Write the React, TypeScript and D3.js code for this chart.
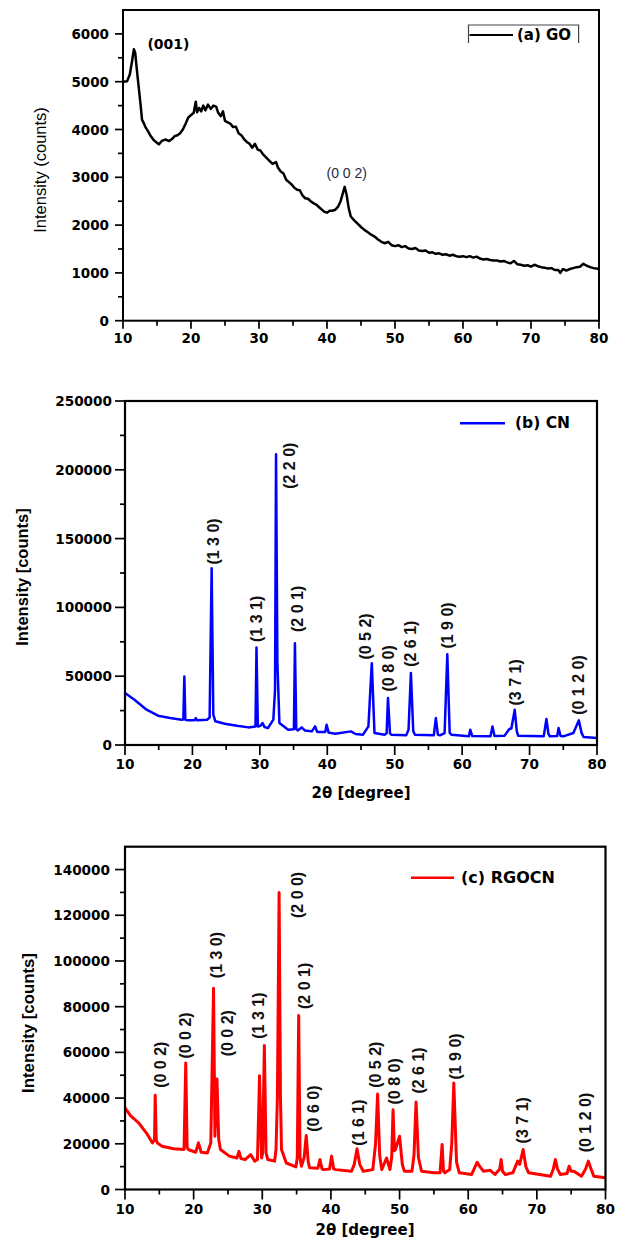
import React from 'react';
import * as d3 from 'd3';

// ---------- data ----------
const X_TICKS = [10, 20, 30, 40, 50, 60, 70, 80];
const X_MINOR = [15, 25, 35, 45, 55, 65, 75];

const GO_YTICKS = [0, 1000, 2000, 3000, 4000, 5000, 6000];
const GO_YMINOR = [500, 1500, 2500, 3500, 4500, 5500, 6500];
const CN_YTICKS = [0, 50000, 100000, 150000, 200000, 250000];
const CN_YMINOR = [25000, 75000, 125000, 175000, 225000];
const RG_YTICKS = [0, 20000, 40000, 60000, 80000, 100000, 120000, 140000];
const RG_YMINOR = [10000, 30000, 50000, 70000, 90000, 110000, 130000];

const GO_DATA: [number, number][] = [
  [10.0, 5000], [10.6, 5010], [11.0, 5150], [11.3, 5400], [11.6, 5680], [11.8, 5600], [12.0, 5300],
  [12.3, 4900], [12.6, 4500], [12.8, 4200], [13.0, 4150], [13.3, 4050], [13.6, 3980], [14.0, 3880],
  [14.5, 3780], [15.0, 3720], [15.3, 3690], [15.7, 3760], [16.2, 3790], [16.8, 3760], [17.2, 3800],
  [17.6, 3860], [18.0, 3880], [18.4, 3920], [18.8, 4000], [19.2, 4120], [19.6, 4250], [20.0, 4300],
  [20.4, 4350], [20.7, 4580], [20.9, 4360], [21.2, 4450], [21.5, 4380], [21.8, 4500], [22.1, 4400],
  [22.5, 4520], [22.9, 4430], [23.3, 4500], [23.7, 4480], [24.0, 4350], [24.4, 4280], [24.7, 4380],
  [25.0, 4180], [25.4, 4150], [25.8, 4120], [26.2, 4050], [26.6, 4060], [27.0, 3920], [27.4, 3880],
  [27.8, 3800], [28.2, 3740], [28.6, 3700], [29.0, 3620], [29.4, 3700], [29.8, 3580], [30.2, 3560],
  [30.6, 3480], [31.0, 3420], [31.5, 3350], [32.0, 3280], [32.5, 3320], [32.8, 3200], [33.2, 3120],
  [33.6, 3080], [34.0, 2950], [34.4, 2900], [34.8, 2850], [35.2, 2780], [35.6, 2740], [36.0, 2730],
  [36.4, 2620], [36.8, 2560], [37.2, 2550], [37.6, 2500], [38.0, 2460], [38.4, 2430], [38.8, 2380],
  [39.2, 2330], [39.6, 2280], [40.0, 2260], [40.4, 2300], [40.8, 2300], [41.2, 2320], [41.6, 2380],
  [42.0, 2500], [42.3, 2650], [42.6, 2800], [42.9, 2620], [43.2, 2350], [43.5, 2180], [44.0, 2100],
  [44.5, 2030], [45.0, 1960], [45.5, 1900], [46.0, 1850], [46.5, 1800], [47.0, 1760], [47.5, 1700],
  [48.0, 1650], [48.5, 1620], [49.0, 1650], [49.5, 1580], [50.0, 1560], [50.5, 1580], [51.0, 1540],
  [51.5, 1560], [52.0, 1510], [52.5, 1500], [53.0, 1520], [53.5, 1470], [54.0, 1460], [54.5, 1470],
  [55.0, 1420], [55.5, 1430], [56.0, 1400], [56.5, 1410], [57.0, 1380], [57.5, 1390], [58.0, 1360],
  [58.5, 1380], [59.0, 1350], [59.5, 1340], [60.0, 1350], [60.5, 1330], [61.0, 1350], [61.5, 1320],
  [62.0, 1340], [62.5, 1300], [63.0, 1280], [63.5, 1290], [64.0, 1270], [64.5, 1260], [65.0, 1260],
  [65.5, 1240], [66.0, 1250], [66.5, 1220], [67.0, 1200], [67.5, 1250], [68.0, 1180], [68.5, 1170],
  [69.0, 1150], [69.5, 1160], [70.0, 1130], [70.5, 1170], [71.0, 1140], [71.5, 1120], [72.0, 1110],
  [72.5, 1090], [73.0, 1100], [73.5, 1060], [74.0, 1060], [74.3, 1000], [74.7, 1080], [75.2, 1050],
  [75.7, 1080], [76.2, 1100], [76.7, 1120], [77.2, 1130], [77.7, 1190], [78.2, 1150], [78.7, 1120],
  [79.2, 1100], [80.0, 1080],
];

const CN_DATA: [number, number][] = [
  [10.0, 37750], [11.4, 32900], [13.2, 25650], [14.9, 21300], [16.7, 19600], [18.4, 18400],
  [18.65, 18500], [18.8, 49850], [18.95, 18300], [19.3, 17900], [20.3, 17900], [20.5, 19500],
  [20.7, 17900], [22.2, 18400], [22.55, 20000], [22.85, 128500], [23.1, 22000], [23.4, 17200],
  [24.8, 15500], [26.6, 14000], [28.3, 12800], [29.35, 13500], [29.5, 70900], [29.7, 13500],
  [30.1, 14000], [30.4, 16000], [30.7, 13000], [31.2, 12300], [32.0, 18400], [32.25, 40000],
  [32.4, 211300], [32.6, 60000], [32.9, 16000], [34.2, 11100], [35.05, 11500], [35.2, 74000],
  [35.4, 11500], [35.6, 10600], [36.2, 12800], [36.7, 10500], [37.7, 9900], [38.2, 13500],
  [38.5, 9500], [39.7, 9500], [39.9, 14700], [40.2, 9000], [41.2, 8200], [43.5, 9900], [44.2, 8000],
  [45.3, 7500], [46.1, 13500], [46.6, 59500], [47.0, 8700], [48.5, 7500], [48.8, 8500],
  [49.0, 34100], [49.3, 8500], [49.5, 7500], [51.7, 7000], [52.05, 11000], [52.4, 52300],
  [52.75, 10000], [53.0, 7500], [55.8, 7000], [56.1, 19600], [56.4, 7500], [56.7, 7000],
  [57.4, 8700], [57.8, 66000], [58.15, 9000], [58.4, 7500], [61.0, 6300], [61.2, 11100],
  [61.5, 6500], [64.2, 6300], [64.5, 13500], [64.8, 6500], [66.3, 6800], [67.0, 11600],
  [67.3, 12000], [67.8, 25650], [68.1, 10000], [68.3, 6800], [72.1, 6300], [72.5, 18900],
  [72.8, 8000], [73.0, 6300], [74.1, 6500], [74.3, 12300], [74.6, 6500], [75.0, 6300], [76.5, 8700],
  [77.3, 17900], [77.7, 9000], [78.0, 5800], [80.0, 5100],
];

const RG_DATA: [number, number][] = [
  [10.0, 35700], [10.8, 32300], [12.0, 29100], [13.1, 24800], [14.0, 20400], [14.3, 21800],
  [14.4, 41200], [14.55, 22000], [14.7, 20400], [15.4, 18900], [17.1, 17800], [18.6, 17500],
  [18.85, 55300], [19.05, 18500], [19.2, 17500], [20.3, 16300], [20.7, 20400], [21.1, 16300],
  [22.0, 16000], [22.5, 20400], [22.9, 88100], [23.1, 23300], [23.4, 48300], [23.65, 22000],
  [23.9, 17500], [25.2, 14600], [26.3, 13800], [26.6, 16700], [26.9, 13500], [27.5, 13100],
  [28.3, 15300], [28.9, 12400], [29.3, 13100], [29.6, 49800], [29.9, 13800], [30.05, 16000],
  [30.3, 63000], [30.55, 16000], [30.8, 13100], [31.8, 12400], [32.0, 17500], [32.2, 40000],
  [32.45, 130000], [32.65, 40000], [32.8, 17500], [33.5, 11600], [34.9, 9900], [35.1, 14000],
  [35.3, 76100], [35.5, 14000], [35.7, 10200], [36.1, 14000], [36.4, 23600], [36.7, 12000],
  [36.9, 9500], [38.1, 9300], [38.4, 13100], [38.7, 9000], [38.9, 8700], [39.8, 9000], [40.1, 14600],
  [40.4, 9000], [40.7, 8700], [43.0, 8000], [43.4, 11000], [43.8, 17800], [44.2, 11000],
  [44.7, 8000], [46.1, 8700], [46.5, 20000], [46.8, 41800], [47.1, 15000], [47.4, 8700],
  [48.1, 13800], [48.6, 8700], [48.85, 14000], [49.05, 34900], [49.25, 17000], [49.4, 17500],
  [50.0, 23300], [50.4, 11000], [50.7, 8000], [51.8, 8000], [52.1, 15000], [52.4, 38300],
  [52.75, 14000], [53.2, 8000], [55.0, 7300], [55.9, 7300], [56.2, 19700], [56.4, 8000],
  [56.6, 7300], [57.3, 8700], [57.6, 20000], [57.9, 46600], [58.3, 12000], [58.7, 7300],
  [60.5, 6600], [61.3, 11900], [61.7, 10000], [62.2, 8000], [63.2, 8400], [63.9, 6600], [64.6, 9000],
  [64.8, 13100], [65.0, 8000], [65.4, 6600], [66.5, 7300], [67.2, 12400], [67.5, 11000], [68.0, 17500],
  [68.4, 10000], [68.8, 7300], [72.0, 5800], [72.4, 9000], [72.7, 13100], [73.0, 9000], [73.4, 6600],
  [74.4, 7000], [74.7, 10200], [75.0, 8000], [75.4, 8000], [76.5, 5800], [77.1, 9000], [77.5, 12400],
  [77.9, 9000], [78.3, 5800], [80.0, 5100],
];

type Lbl = { t: string; x: number; y: number };

const CN_LABELS: Lbl[] = [
  { t: '(1 3 0)', x: 23.1, y: 147900 },
  { t: '(1 3 1)', x: 29.5, y: 91700 },
  { t: '(2 2 0)', x: 34.35, y: 203000 },
  { t: '(2 0 1)', x: 35.6, y: 98900 },
  { t: '(0 5 2)', x: 45.7, y: 78900 },
  { t: '(0 8 0)', x: 49.1, y: 55700 },
  { t: '(2 6 1)', x: 52.4, y: 73600 },
  { t: '(1 9 0)', x: 57.9, y: 86900 },
  { t: '(3 7 1)', x: 67.9, y: 45500 },
  { t: '(0 1 2 0)', x: 77.2, y: 43600 },
];

const RG_LABELS: Lbl[] = [
  { t: '(0 0 2)', x: 15.2, y: 54600 },
  { t: '(0 0 2)', x: 18.85, y: 67400 },
  { t: '(1 3 0)', x: 23.3, y: 102600 },
  { t: '(0 0 2)', x: 25.0, y: 68400 },
  { t: '(1 3 1)', x: 29.5, y: 76100 },
  { t: '(2 0 0)', x: 35.2, y: 128900 },
  { t: '(2 0 1)', x: 36.1, y: 89100 },
  { t: '(0 6 0)', x: 37.4, y: 35400 },
  { t: '(1 6 1)', x: 44.0, y: 29300 },
  { t: '(0 5 2)', x: 46.5, y: 54600 },
  { t: '(0 8 0)', x: 49.3, y: 47300 },
  { t: '(2 6 1)', x: 52.7, y: 52100 },
  { t: '(1 9 0)', x: 58.1, y: 58200 },
  { t: '(3 7 1)', x: 67.9, y: 30300 },
  { t: '(0 1 2 0)', x: 77.1, y: 29300 },
];

const BOLD = "'DejaVu Sans', sans-serif";
const ARIAL = "'Liberation Sans', Arial, sans-serif";

type PanelProps = {
  L: number; R: number; T: number; B: number; yMax: number;
  yTicks: number[]; yMinor: number[];
  data: [number, number][]; color: string; lw: number;
  tickFont: number; yLabelGap: number; xLabelY: number;
  majorLen: number; minorLen: number; frameW: number;
  children?: (x: d3.ScaleLinear<number, number>, y: d3.ScaleLinear<number, number>) => React.ReactNode;
};

function Panel(p: PanelProps) {
  const x = d3.scaleLinear().domain([10, 80]).range([p.L, p.R]);
  const y = d3.scaleLinear().domain([0, p.yMax]).range([p.B, p.T]);
  const line = d3.line<[number, number]>().x(d => x(d[0])).y(d => y(d[1]));
  return (
    <g>
      <defs>
        <clipPath id={`clip${Math.round(p.T)}`}>
          <rect x={p.L} y={p.T} width={p.R - p.L} height={p.B - p.T} />
        </clipPath>
      </defs>
      <path d={line(p.data) || ''} fill="none" stroke={p.color} strokeWidth={p.lw}
        strokeLinejoin="round" clipPath={`url(#clip${Math.round(p.T)})`} />
      <rect x={p.L} y={p.T} width={p.R - p.L} height={p.B - p.T} fill="none" stroke="#000" strokeWidth={p.frameW} />
      {p.yTicks.map(v => (
        <g key={'yt' + v}>
          <line x1={p.L - p.majorLen} x2={p.L} y1={y(v)} y2={y(v)} stroke="#000" strokeWidth={1.7} />
          <text x={p.L - p.yLabelGap} y={y(v)} textAnchor="end" dominantBaseline="central"
            fontFamily={BOLD} fontWeight="bold" fontSize={p.tickFont}>{v}</text>
        </g>
      ))}
      {p.yMinor.filter(v => v < p.yMax).map(v => (
        <line key={'ym' + v} x1={p.L - p.minorLen} x2={p.L} y1={y(v)} y2={y(v)} stroke="#000" strokeWidth={1.7} />
      ))}
      {X_TICKS.map(v => (
        <g key={'xt' + v}>
          <line x1={x(v)} x2={x(v)} y1={p.B} y2={p.B + p.majorLen} stroke="#000" strokeWidth={1.7} />
          <text x={x(v)} y={p.xLabelY} textAnchor="middle" dominantBaseline="central"
            fontFamily={BOLD} fontWeight="bold" fontSize={p.tickFont}>{v}</text>
        </g>
      ))}
      {X_MINOR.map(v => (
        <line key={'xm' + v} x1={x(v)} x2={x(v)} y1={p.B} y2={p.B + p.minorLen} stroke="#000" strokeWidth={1.7} />
      ))}
      {p.children && p.children(x, y)}
    </g>
  );
}

function rotLabels(labels: Lbl[], x: any, y: any) {
  return labels.map((l, i) => (
    <text key={i} transform={`translate(${x(l.x)},${y(l.y)}) rotate(-90)`} textAnchor="middle"
      dominantBaseline="central" fontFamily={ARIAL} fontWeight="bold" fontSize={16} fill="#111">{l.t}</text>
  ));
}

export default function App() {
  return (
    <svg width={619} height={1248} style={{ position: 'absolute', left: 0, top: 0, background: '#fff' }}>
      {/* (a) GO */}
      <Panel L={123} R={599} T={10} B={320.7} yMax={6500} yTicks={GO_YTICKS} yMinor={GO_YMINOR}
        data={GO_DATA} color="#000" lw={2.5} tickFont={13.5} yLabelGap={14} xLabelY={338}
        majorLen={8} minorLen={5} frameW={2}>
        {(x, y) => (
          <g>
            <text x={x(13.6)} y={y(5790)} dominantBaseline="central" fontFamily={BOLD} fontWeight="bold" fontSize={14}>(001)</text>
            <text x={x(42.9)} y={y(3080)} textAnchor="middle" dominantBaseline="central" fontFamily={ARIAL} fontSize={14} fill="#1f2a44">(0 0 2)</text>
          </g>
        )}
      </Panel>
      <text transform="translate(40,170) rotate(-90)" textAnchor="middle" dominantBaseline="central"
        fontFamily={ARIAL} fontSize={16.5}>Intensity (counts)</text>
      <path d="M468.5,43 V25 H578.6 V43" fill="none" stroke="#444" strokeWidth={1.2} />
      <line x1={469.6} x2={513} y1={35} y2={35} stroke="#000" strokeWidth={2} />
      <text x={517} y={35} dominantBaseline="central" fontFamily={BOLD} fontWeight="bold" fontSize={15}>(a) GO</text>

      {/* (b) CN */}
      <Panel L={125} R={597} T={401} B={745} yMax={250000} yTicks={CN_YTICKS} yMinor={CN_YMINOR}
        data={CN_DATA} color="#0000ff" lw={2.5} tickFont={13.6} yLabelGap={13} xLabelY={764}
        majorLen={10} minorLen={5} frameW={2.2}>
        {(x, y) => rotLabels(CN_LABELS, x, y)}
      </Panel>
      <text transform="translate(22,577) rotate(-90)" textAnchor="middle" dominantBaseline="central"
        fontFamily={ARIAL} fontWeight="bold" fontSize={16.5}>Intensity [counts]</text>
      <text x={361} y={793} textAnchor="middle" dominantBaseline="central" fontFamily={BOLD} fontWeight="bold" fontSize={15}>2θ [degree]</text>
      <line x1={460} x2={505} y1={423.3} y2={423.3} stroke="#0000ff" strokeWidth={2.5} />
      <text x={515} y={423.3} dominantBaseline="central" fontFamily={BOLD} fontWeight="bold" fontSize={15.5}>(b) CN</text>

      {/* (c) RGOCN */}
      <Panel L={125} R={605.5} T={846.7} B={1189.5} yMax={150000} yTicks={RG_YTICKS} yMinor={RG_YMINOR}
        data={RG_DATA} color="#ff0000" lw={3} tickFont={13.6} yLabelGap={15} xLabelY={1209}
        majorLen={10} minorLen={5} frameW={2.2}>
        {(x, y) => rotLabels(RG_LABELS, x, y)}
      </Panel>
      <text transform="translate(28,1023) rotate(-90)" textAnchor="middle" dominantBaseline="central"
        fontFamily={ARIAL} fontWeight="bold" fontSize={16.8}>Intensity [counts]</text>
      <text x={365} y={1230} textAnchor="middle" dominantBaseline="central" fontFamily={BOLD} fontWeight="bold" fontSize={15}>2θ [degree]</text>
      <line x1={411} x2={454} y1={877.7} y2={877.7} stroke="#ff0000" strokeWidth={2.5} />
      <text x={461} y={877.7} dominantBaseline="central" fontFamily={BOLD} fontWeight="bold" fontSize={16}>(c) RGOCN</text>
    </svg>
  );
}
